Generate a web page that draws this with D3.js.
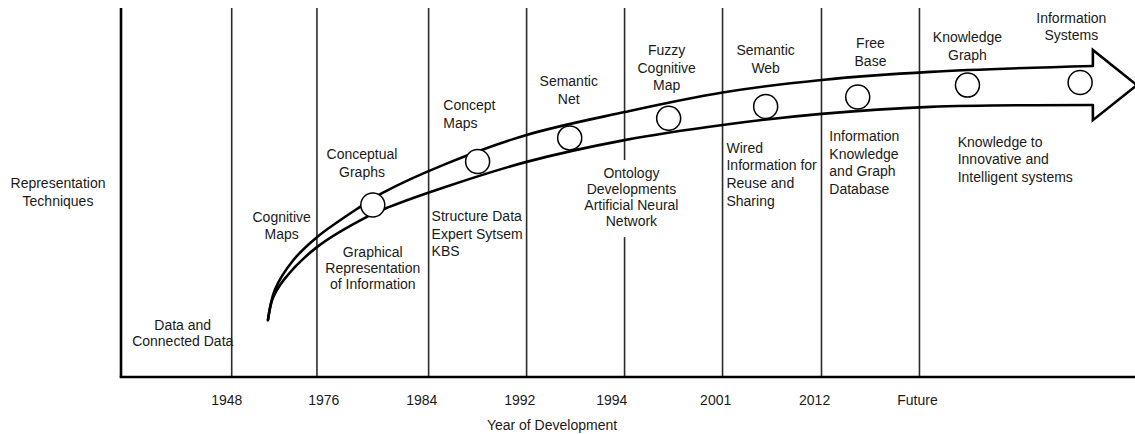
<!DOCTYPE html>
<html>
<head>
<meta charset="utf-8">
<script src="https://cdn.jsdelivr.net/npm/d3@7"></script>
<style>
  body { margin: 0; background: #fff; }
  svg text { font-family: "Liberation Sans", Arial, sans-serif; font-size: 14px; fill: #1a1a1a; }
</style>
</head>
<body>
<svg id="chart"></svg>
<script>
// eras along the x axis (x in "era units", y in "level" 0..100)
var eras        = ["1948", "1976", "1984", "1992", "1994", "2001", "2012", "Future"];
var eraDividers = [1.13, 2.0, 3.14, 4.14, 5.14, 6.14, 7.15, 8.15];
var eraLabelAt  = [1.08, 2.07, 3.07, 4.07, 5.01, 6.07, 7.08, 8.13];
var dividerGaps = { "1994": [37.9, 58.8] };

// nodes on the arrow
var techniques = ["Conceptual Graphs", "Concept Maps", "Semantic Net", "Fuzzy Cognitive Map",
                  "Semantic Web", "Free Base", "Knowledge Graph", "Information Systems"];
var nodeX     = [2.57, 3.64, 4.58, 5.59, 6.58, 7.52, 8.64, 9.79];
var nodeLevel = [46.6, 58.4, 64.8, 70.1, 73.3, 75.9, 79.1, 79.8];

// arrow edges
var upperEdge = [[1.50,15.4],[1.57,23.6],[1.76,31.7],[2.0,37.9],[2.44,46.1],[2.67,49.9],[3.31,57.7],
                 [4.14,65.6],[5.14,71.8],[6.14,77.1],[7.15,80.5],[8.26,82.7],[9.92,84.3]];
var lowerEdge = [[1.50,15.4],[1.55,21.4],[1.67,26.6],[2.0,35.2],[2.51,43.4],[2.74,46.1],[3.31,51.5],
                 [4.14,58.3],[5.14,64.2],[6.14,68.3],[7.15,71.3],[8.26,73.2],[9.92,73.7]];
var arrowHead = [[9.92,84.3],[9.92,88.6],[10.37,79.1],[9.92,69.6],[9.92,73.7]];

// labels above the arrow
var topLabels = [
  { lines: ["Cognitive", "Maps"], x: 1.64, y: 43.4, anchor: "middle" },
  { lines: ["Conceptual", "Graphs"], x: 2.46, y: 60.4, anchor: "middle" },
  { lines: ["Concept", "Maps"], x: 3.29, y: 73.7, anchor: "start" },
  { lines: ["Semantic", "Net"], x: 4.57, y: 80.2, anchor: "middle" },
  { lines: ["Fuzzy", "Cognitive", "Map"], x: 5.57, y: 88.6, anchor: "middle" },
  { lines: ["Semantic", "Web"], x: 6.58, y: 88.6, anchor: "middle" },
  { lines: ["Free", "Base"], x: 7.65, y: 90.5, anchor: "middle" },
  { lines: ["Knowledge", "Graph"], x: 8.64, y: 92.1, anchor: "middle" },
  { lines: ["Information", "Systems"], x: 9.70, y: 97.3, anchor: "middle" }
];

// descriptions below the arrow
var bottomLabels = [
  { lines: ["Data and", "Connected Data"], x: 0.63, y: 14.1, anchor: "middle", tight: true },
  { lines: ["Graphical", "Representation", "of Information"], x: 2.57, y: 33.9, anchor: "middle", tight: true },
  { lines: ["Structure Data", "Expert Sytsem", "KBS"], x: 3.17, y: 43.6, anchor: "start" },
  { lines: ["Ontology", "Developments", "Artificial Neural", "Network"], x: 5.21, y: 55.3, anchor: "middle", tight: true },
  { lines: ["Wired", "Information for", "Reuse and", "Sharing"], x: 6.18, y: 62.1, anchor: "start" },
  { lines: ["Information", "Knowledge", "and Graph", "Database"], x: 7.23, y: 65.3, anchor: "start" },
  { lines: ["Knowledge to", "Innovative and", "Intelligent systems"], x: 8.54, y: 63.7, anchor: "start" }
];

var W = 1135, H = 434;
var svg = d3.select("#chart").attr("width", W).attr("height", H);

var x = d3.scaleLinear().domain([0, 10.35]).range([121, 1135]);
var y = d3.scaleLinear().domain([0, 100]).range([377, 8]);

// era dividers
eras.forEach(function(e, i) {
  var gap = dividerGaps[e];
  var segs = gap ? [[0, gap[0]], [gap[1], 100]] : [[0, 100]];
  segs.forEach(function(s) {
    svg.append("line")
      .attr("x1", x(eraDividers[i])).attr("x2", x(eraDividers[i]))
      .attr("y1", y(s[0])).attr("y2", y(s[1]))
      .attr("stroke", "#2b2b2b").attr("stroke-width", 1.6);
  });
});

// axes
svg.append("line")
  .attr("x1", x(0)).attr("x2", x(0)).attr("y1", y(100)).attr("y2", y(0))
  .attr("stroke", "#000").attr("stroke-width", 2.6);
svg.append("line")
  .attr("x1", x(0) - 1.3).attr("x2", x(10.35)).attr("y1", y(0)).attr("y2", y(0))
  .attr("stroke", "#000").attr("stroke-width", 2.6);

svg.selectAll(".era-label")
  .data(eras)
  .enter().append("text")
  .attr("class", "era-label")
  .attr("x", function(d, i) { return x(eraLabelAt[i]); })
  .attr("y", 400).attr("dy", "0.35em")
  .attr("text-anchor", "middle")
  .text(function(d) { return d; });

svg.append("text")
  .attr("x", 552).attr("y", 425).attr("dy", "0.35em")
  .attr("text-anchor", "middle")
  .text("Year of Development");

svg.append("text")
  .attr("x", 58).attr("y", 188).attr("dy", "0.35em")
  .attr("text-anchor", "middle")
  .selectAll("tspan")
  .data(["Representation", "Techniques"])
  .enter().append("tspan")
  .attr("x", 58)
  .attr("dy", function(d, i) { return i ? 17.5 : 0; })
  .text(function(d) { return d; });

// arrow
var line = d3.line()
  .x(function(d) { return x(d[0]); })
  .y(function(d) { return y(d[1]); })
  .curve(d3.curveCatmullRom.alpha(0.5));

[upperEdge, lowerEdge].forEach(function(edge) {
  svg.append("path")
    .attr("d", line(edge))
    .attr("fill", "none").attr("stroke", "#000").attr("stroke-width", 2.6)
    .attr("stroke-linecap", "round");
});

svg.append("path")
  .attr("d", d3.line().x(function(d) { return x(d[0]); }).y(function(d) { return y(d[1]); })(arrowHead))
  .attr("fill", "none").attr("stroke", "#000").attr("stroke-width", 2.6)
  .attr("stroke-linejoin", "miter");

svg.selectAll(".node")
  .data(techniques)
  .enter().append("circle")
  .attr("class", "node")
  .attr("cx", function(d, i) { return x(nodeX[i]); })
  .attr("cy", function(d, i) { return y(nodeLevel[i]); })
  .attr("r", 12)
  .attr("fill", "#fff").attr("stroke", "#000").attr("stroke-width", 1.5);

// text blocks
function drawBlocks(data, cls) {
  var t = svg.selectAll("." + cls)
    .data(data)
    .enter().append("text")
    .attr("class", cls)
    .attr("text-anchor", function(d) { return d.anchor; })
    .attr("y", function(d) { return y(d.y); });
  t.selectAll("tspan")
    .data(function(d) {
      return d.lines.map(function(l, i) { return { t: l, i: i, x: d.x, tight: d.tight }; });
    })
    .enter().append("tspan")
    .attr("x", function(d) { return x(d.x); })
    .attr("dy", function(d) { return d.i ? (d.tight ? 16 : 17.6) : "0.35em"; })
    .text(function(d) { return d.t; });
}
drawBlocks(topLabels, "top-label");
drawBlocks(bottomLabels, "bottom-label");
</script>
</body>
</html>
